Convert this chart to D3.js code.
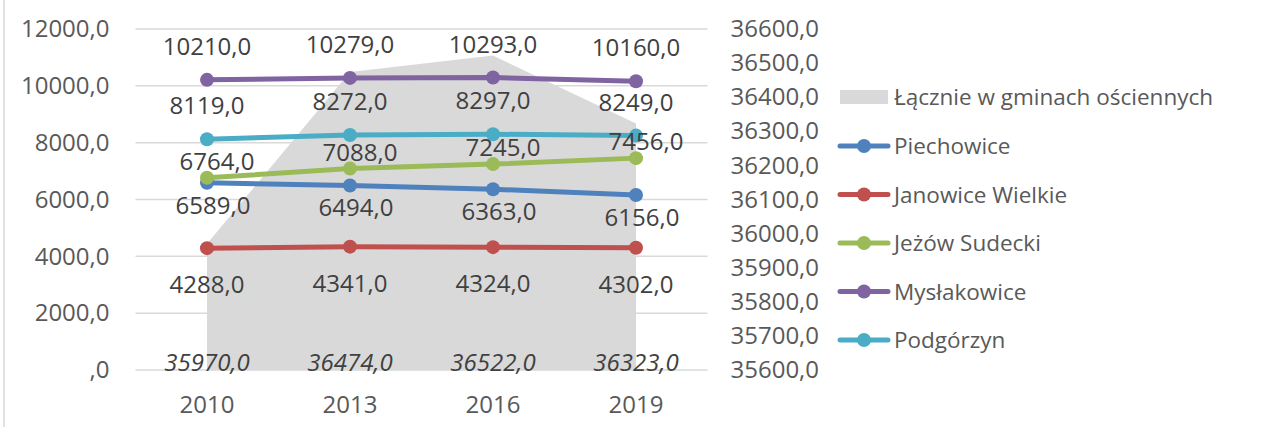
<!DOCTYPE html>
<html>
<head>
<meta charset="utf-8">
<script src="https://cdn.jsdelivr.net/npm/d3@7"></script>
<style>
  body { margin: 0; background: #fff; }
  svg { font-family: "Open Sans", sans-serif; }
</style>
</head>
<body>
<svg width="1262" height="427"></svg>
<script>
// dane
const years = ["2010", "2013", "2016", "2019"];
const totalName = "Łącznie w gminach ościennych";
const totalValues = [35970, 36474, 36522, 36323];
const seriesNames = ["Piechowice", "Janowice Wielkie", "Jeżów Sudecki", "Mysłakowice", "Podgórzyn"];
const piechowice = [6589, 6494, 6363, 6156];
const janowice = [4288, 4341, 4324, 4302];
const jezow = [6764, 7088, 7245, 7456];
const myslakowice = [10210, 10279, 10293, 10160];
const podgorzyn = [8119, 8272, 8297, 8249];
const leftTicks = [0, 2000, 4000, 6000, 8000, 10000, 12000];
const rightTicks = [35600, 35700, 35800, 35900, 36000, 36100, 36200, 36300, 36400, 36500, 36600];

const svg = d3.select("svg");
const fmt = v => v === 0 ? ",0" : v.toFixed(1).replace(".", ",");
const numSize = "24px";

const x = d3.scaleBand().domain(years).range([135.5, 707.5]);
const cx = d => x(d) + x.bandwidth() / 2;
const yL = d3.scaleLinear().domain([0, 12000]).range([370, 29]);
const yR = d3.scaleLinear().domain([35600, 36600]).range([370, 29]);

// ramka z lewej
svg.append("line").attr("x1", 4).attr("x2", 4).attr("y1", 0).attr("y2", 427)
  .attr("stroke", "#d9d9d9").attr("stroke-width", 1.5);

// siatka
svg.append("g").selectAll("line").data(leftTicks).join("line")
  .attr("x1", 135.5).attr("x2", 707.5)
  .attr("y1", d => yL(d)).attr("y2", d => yL(d))
  .attr("stroke", "#d9d9d9").attr("stroke-width", 1.5);

// obszar - suma (oś prawa)
const area = d3.area().x((d, i) => cx(years[i])).y0(yR(35600)).y1(d => yR(d));
svg.append("path").datum(totalValues).attr("d", area).attr("fill", "#d9d9d9");

// osie
const axL = svg.append("g").attr("transform", "translate(135.5,0)")
  .call(d3.axisLeft(yL).tickValues(leftTicks).tickFormat(fmt).tickSize(0).tickPadding(26));
const axR = svg.append("g").attr("transform", "translate(707.5,0)")
  .call(d3.axisRight(yR).tickValues(rightTicks).tickFormat(fmt).tickSize(0).tickPadding(23));
const axB = svg.append("g").attr("transform", "translate(0,370)")
  .call(d3.axisBottom(x).tickSize(0).tickPadding(26));
[axL, axR, axB].forEach(a => {
  a.select(".domain").remove();
  a.selectAll("text").attr("fill", "#595959").style("font-size", numSize).style("font-family", "Open Sans");
});

// serie liniowe
const series = [
  { name: seriesNames[0], values: piechowice, color: "#4f81bd", dx: 6, dy: 31 },
  { name: seriesNames[1], values: janowice, color: "#c0504d", dx: 0, dy: 45 },
  { name: seriesNames[2], values: jezow, color: "#9bbb59", dx: 10, dy: -8 },
  { name: seriesNames[3], values: myslakowice, color: "#8064a2", dx: 0, dy: -25 },
  { name: seriesNames[4], values: podgorzyn, color: "#4bacc6", dx: 0, dy: -25 }
];
const line = d3.line().x((d, i) => cx(years[i])).y(d => yL(d));
series.forEach(s => {
  svg.append("path").datum(s.values).attr("d", line)
    .attr("fill", "none").attr("stroke", s.color).attr("stroke-width", 5).attr("stroke-linecap", "round");
  svg.append("g").selectAll("circle").data(s.values).join("circle")
    .attr("cx", (d, i) => cx(years[i])).attr("cy", d => yL(d)).attr("r", 7)
    .attr("fill", s.color);
});

// etykiety danych
series.forEach(s => {
  svg.append("g").selectAll("text").data(s.values).join("text")
    .attr("x", (d, i) => cx(years[i]) + s.dx)
    .attr("y", d => yL(d) + s.dy)
    .attr("text-anchor", "middle").attr("fill", "#404040").style("font-size", numSize)
    .text(fmt);
});
svg.append("g").selectAll("text").data(totalValues).join("text")
  .attr("x", (d, i) => cx(years[i]))
  .attr("y", 371)
  .attr("text-anchor", "middle").attr("fill", "#404040").style("font-size", numSize)
  .style("font-style", "italic")
  .text(fmt);

// legenda
const lg = svg.append("g");
lg.append("rect").attr("x", 840).attr("y", 90).attr("width", 48).attr("height", 14).attr("fill", "#d9d9d9");
lg.append("text").attr("x", 894).attr("y", 105).attr("fill", "#595959").style("font-size", "22.5px").text(totalName);
series.forEach((s, i) => {
  const yy = 146 + i * 48.5;
  lg.append("line").attr("x1", 840).attr("x2", 888).attr("y1", yy).attr("y2", yy)
    .attr("stroke", s.color).attr("stroke-width", 5).attr("stroke-linecap", "round");
  lg.append("circle").attr("cx", 864).attr("cy", yy).attr("r", 7).attr("fill", s.color);
  lg.append("text").attr("x", 894).attr("y", yy + 8).attr("fill", "#595959").style("font-size", "22.5px").text(s.name);
});
</script>
</body>
</html>
